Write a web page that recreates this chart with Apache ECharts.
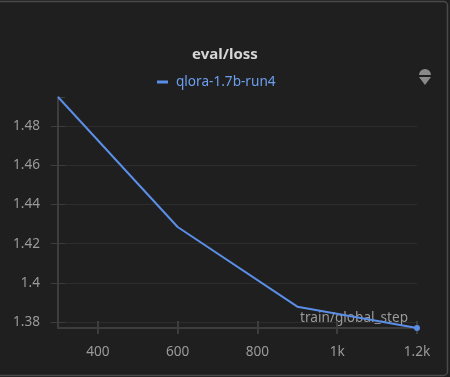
<!DOCTYPE html>
<html>
<head>
<meta charset="utf-8">
<style>
html,body{margin:0;padding:0;background:#1f1f1f;}
#chart{width:450px;height:377px;}
</style>
<script src="https://cdn.jsdelivr.net/npm/echarts@6/dist/echarts.min.js"></script>
</head>
<body>
<div id="chart"></div>
<script>
var steps = [300, 600, 900, 1200];
var lossValues = [1.4949, 1.4285, 1.3878, 1.3769];
var seriesName = 'qlora-1.7b-run4';
var xTickLabels = {1000: '1k', 1200: '1.2k'};

var chart = echarts.init(document.getElementById('chart'), null, {renderer: 'canvas'});
var font = 'Noto Sans';
var lineColor = '#5b8ee6';

var data = steps.map(function (s, i) {
  var item = {value: [s, lossValues[i]]};
  if (i === steps.length - 1) {
    item.symbol = 'circle';
    item.symbolSize = 6;
  }
  return item;
});

var option = {
  backgroundColor: '#1f1f1f',
  animation: false,
  textStyle: {fontFamily: font},
  title: {
    text: 'eval/loss',
    left: 'center',
    top: 42,
    textStyle: {color: '#d6d6d6', fontSize: 15, fontWeight: 'bold', fontFamily: font}
  },
  legend: {
    top: 70,
    left: 152,
    icon: 'rect',
    itemWidth: 11,
    itemHeight: 3,
    itemGap: 10,
    textStyle: {color: '#6d9ff0', fontSize: 13.6, fontFamily: font, padding: [0, 0, 0, 3]},
    data: [seriesName]
  },
  grid: {left: 58, right: 33, top: 97, bottom: 49, containLabel: false},
  xAxis: [{
    type: 'value',
    min: 300,
    max: 1200,
    minInterval: 200,
    maxInterval: 200,
    name: 'train/global_step',
    nameLocation: 'end',
    nameGap: -9,
    nameTextStyle: {color: '#9a9a9a', fontSize: 13.6, align: 'right', verticalAlign: 'bottom', padding: [0, 0, 3, 0], fontFamily: font},
    axisLine: {show: true, lineStyle: {color: '#3d3d3d', width: 2}},
    axisTick: {show: true, length: 6, lineStyle: {color: '#3d3d3d', width: 2}},
    axisLabel: {
      color: '#9a9a9a', fontSize: 13.6, margin: 17, fontFamily: font,
      showMinLabel: false,
      formatter: function (v) { return xTickLabels[v] || String(v); }
    },
    splitLine: {show: false}
  }, {
    type: 'value',
    position: 'bottom',
    min: 300,
    max: 1200,
    minInterval: 200,
    maxInterval: 200,
    axisLine: {show: false},
    axisTick: {show: true, inside: true, length: 7, lineStyle: {color: '#3d3d3d', width: 2}},
    axisLabel: {show: false},
    splitLine: {show: false}
  }],
  yAxis: [{
    type: 'value',
    min: 1.3769,
    max: 1.4949,
    minInterval: 0.02,
    maxInterval: 0.02,
    axisLine: {show: true, lineStyle: {color: '#3d3d3d', width: 2}},
    axisTick: {show: true, length: 7, lineStyle: {color: '#3d3d3d', width: 1}},
    axisLabel: {color: '#9a9a9a', fontSize: 13.6, margin: 18, fontFamily: font, showMinLabel: false, showMaxLabel: false},
    splitLine: {show: true, showMinLine: false, showMaxLine: false, lineStyle: {color: '#2d2d2d', width: 1}}
  }, {
    type: 'value',
    position: 'left',
    min: 1.3769,
    max: 1.4949,
    minInterval: 0.02,
    maxInterval: 0.02,
    axisLine: {show: false},
    axisTick: {show: true, inside: true, length: 7, lineStyle: {color: '#3d3d3d', width: 1}},
    axisLabel: {show: false},
    splitLine: {show: false}
  }],
  series: [{
    name: seriesName,
    type: 'line',
    xAxisIndex: 0,
    yAxisIndex: 0,
    data: data,
    symbol: 'none',
    showSymbol: true,
    lineStyle: {color: lineColor, width: 2},
    itemStyle: {color: lineColor},
    z: 3
  }],
  graphic: [
    {
      type: 'rect',
      shape: {x: -10, y: 1.5, width: 457.5, height: 374, r: 4},
      style: {fill: null, stroke: '#494949', lineWidth: 1.5},
      silent: true
    },
    {
      type: 'sector',
      shape: {cx: 425, cy: 75, r: 6, r0: 0, startAngle: Math.PI, endAngle: Math.PI * 2, clockwise: true},
      style: {fill: '#8a8a8a'},
      silent: true
    },
    {
      type: 'polygon',
      shape: {points: [[419, 77], [431, 77], [425, 85]]},
      style: {fill: '#8a8a8a'},
      silent: true
    }
  ]
};
chart.setOption(option);
</script>
</body>
</html>
